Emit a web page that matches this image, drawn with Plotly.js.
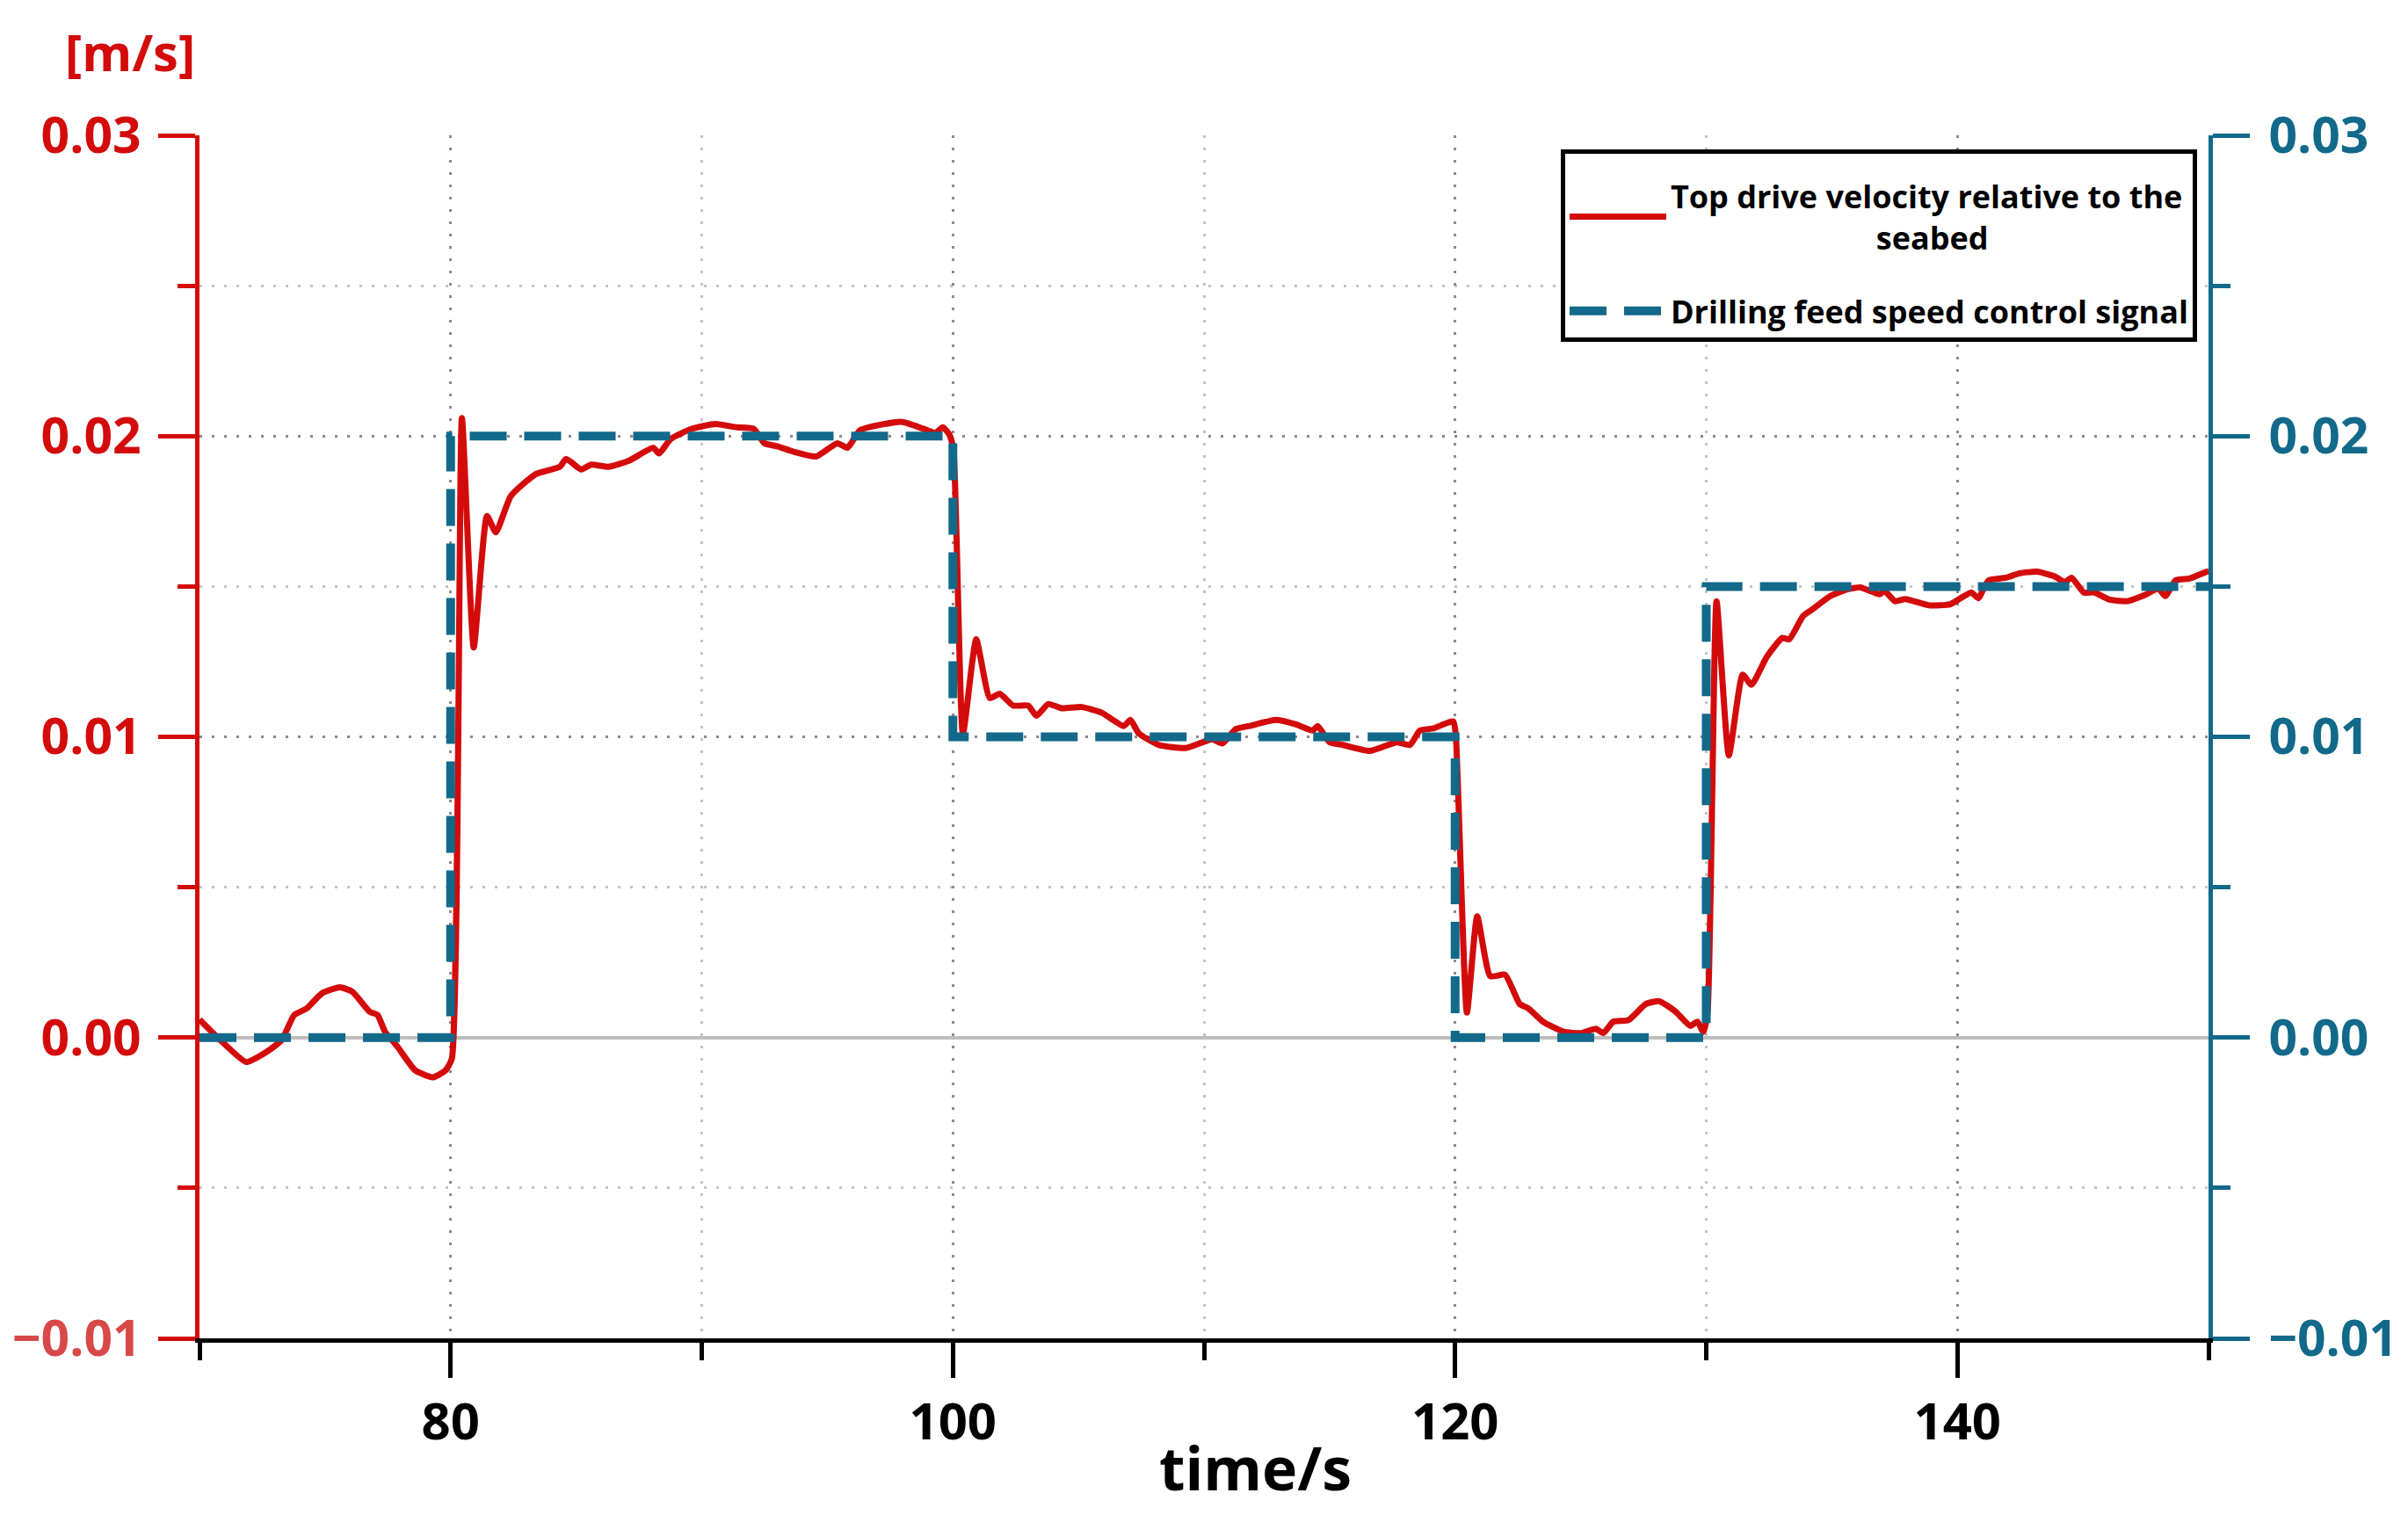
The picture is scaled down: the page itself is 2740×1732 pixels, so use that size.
<!DOCTYPE html>
<html>
<head>
<meta charset="utf-8">
<script src="https://cdn.plot.ly/plotly-3.0.1.min.js"></script>
<style>
  html, body { margin: 0; padding: 0; background: #fff; }
  #chart { width: 2740px; height: 1732px; }
</style>
</head>
<body>
<div id="chart"></div>
<script>
// Top drive velocity relative to the seabed
const timeVel = [70, 70.85, 71.86, 72.66, 73.27, 73.77, 74.27, 74.87, 75.58, 76.08, 76.78, 77.09, 77.39, 77.89, 78.59, 79.3, 79.8, 80.05, 80.45, 80.92, 81.45, 81.8, 82.4, 83.4, 84.35, 84.6, 85.2, 85.6, 86.3, 87.1, 88.07, 88.3, 88.76, 89.6, 90.55, 91.4, 92.07, 92.5, 93.0, 93.7, 94.55, 95.4, 95.8, 96.3, 97.2, 98.0, 99.0, 99.3, 99.6, 99.86, 100.02, 100.4, 100.93, 101.47, 101.87, 102.4, 103.0, 103.33, 103.8, 104.33, 105.13, 105.93, 106.8, 107.07, 107.4, 108.2, 109.27, 110.33, 110.73, 111.27, 111.8, 112.87, 113.67, 114.33, 114.53, 115.0, 115.53, 116.6, 117.67, 118.2, 118.6, 119.13, 119.93, 120.03, 120.47, 120.88, 121.4, 121.99, 122.57, 122.92, 123.5, 124.33, 125.03, 125.6, 125.9, 126.3, 126.9, 127.6, 128.13, 128.77, 129.36, 129.65, 129.88, 130.05, 130.41, 130.9, 131.45, 131.8, 132.41, 133.03, 133.3, 133.86, 134.28, 134.9, 135.59, 136.14, 136.9, 137.1, 137.52, 137.93, 138.9, 139.72, 140.55, 140.83, 141.24, 141.93, 142.48, 143.17, 143.86, 144.28, 144.55, 145.03, 145.45, 146.07, 146.76, 147.45, 148.0, 148.28, 148.69, 149.24, 149.93, 150];
const velocity = [0.0006, -0.0001, -0.00081, -0.00048, -0.00009, 0.00075, 0.00097, 0.00147, 0.00167, 0.00153, 0.00086, 0.00075, 0.00019, -0.00031, -0.00109, -0.00132, -0.00109, -0.0007, 0.0206, 0.01297, 0.01734, 0.0168, 0.01801, 0.01874, 0.01898, 0.01924, 0.01889, 0.01905, 0.01898, 0.01918, 0.01961, 0.01942, 0.0199, 0.02024, 0.0204, 0.02029, 0.02024, 0.01976, 0.01966, 0.01947, 0.01932, 0.01976, 0.01961, 0.02019, 0.02039, 0.02047, 0.02019, 0.0201, 0.02029, 0.02005, 0.0196, 0.0101, 0.01324, 0.01129, 0.01143, 0.01104, 0.01104, 0.0107, 0.01109, 0.01095, 0.01099, 0.0108, 0.01036, 0.01056, 0.01012, 0.00973, 0.00963, 0.00992, 0.00978, 0.01026, 0.01036, 0.01056, 0.01041, 0.01021, 0.01036, 0.00982, 0.00973, 0.00953, 0.00982, 0.00973, 0.01021, 0.01028, 0.01051, 0.0100, 0.00083, 0.00403, 0.00204, 0.00209, 0.00112, 0.00097, 0.00053, 0.00019, 0.00015, 0.00029, 0.00015, 0.00053, 0.00058, 0.00112, 0.00121, 0.00087, 0.00039, 0.00053, 0.00019, 0.0008, 0.01451, 0.00938, 0.01207, 0.01173, 0.01266, 0.01329, 0.01324, 0.01402, 0.01427, 0.01466, 0.0149, 0.01497, 0.01474, 0.01485, 0.01451, 0.01458, 0.01437, 0.01441, 0.0148, 0.01461, 0.0152, 0.01529, 0.01544, 0.01549, 0.01534, 0.01515, 0.01529, 0.0148, 0.0148, 0.01456, 0.01451, 0.01471, 0.01493, 0.01468, 0.0152, 0.01526, 0.01549, 0.0155];

// Drilling feed speed control signal (step)
const timeSignal = [70, 80, 80, 100, 100, 120, 120, 130, 130, 150];
const signal = [0, 0, 0.02, 0.02, 0.01, 0.01, 0, 0, 0.015, 0.015];

const yTicks = [-0.01, 0.00, 0.01, 0.02, 0.03];
const yTickTextLeft = ['<span style="color:#d84848">\u22120.01</span>', '0.00', '0.01', '0.02', '0.03'];
const yTickTextRight = ['\u22120.01', '0.00', '0.01', '0.02', '0.03'];
const xTicks = [80, 100, 120, 140];

const RED = '#d40b0b';
const BLUE = '#12698a';
const FONT = 'Open Sans, Noto Sans, sans-serif';

// space padding so that the second line of the first legend entry looks centred
const pad = '\u00a0'.repeat(25);

const data = [
  {
    x: timeVel,
    y: velocity,
    mode: 'lines',
    name: 'Top drive velocity relative to the<br>' + pad + 'seabed',
    legendgroup: 'vel',
    line: { color: RED, width: 7, shape: 'spline', smoothing: 0.5 },
    yaxis: 'y'
  },
  {
    x: timeSignal,
    y: signal,
    mode: 'lines',
    name: 'Drilling feed speed control signal',
    legendgroup: 'sig',
    line: { color: BLUE, width: 10, dash: '42px,20px' },
    yaxis: 'y2'
  }
];

const layout = {
  width: 2740,
  height: 1732,
  paper_bgcolor: '#fff',
  plot_bgcolor: '#fff',
  margin: { l: 227, r: 227, t: 154, b: 209 },
  showlegend: true,
  legend: {
    x: 0.9943, xanchor: 'right',
    y: 0.9883, yanchor: 'top',
    bgcolor: '#fff',
    bordercolor: '#000',
    borderwidth: 5,
    itemwidth: 110,
    tracegroupgap: 34,
    title: { text: '\u00a0', font: { family: FONT, size: 14 } },
    font: { family: FONT, size: 36, color: '#000', weight: 'bold' }
  },
  xaxis: {
    range: [70, 150],
    tickvals: xTicks,
    ticks: 'outside',
    ticklen: 40,
    tickwidth: 5,
    tickcolor: '#000',
    ticklabelstandoff: 0,
    tickfont: { family: FONT, size: 58, color: '#000', weight: 'bold' },
    showline: true,
    linecolor: '#000',
    linewidth: 5,
    zeroline: false,
    showgrid: true,
    gridcolor: '#8a8a8a',
    gridwidth: 3,
    griddash: '3px,11px',
    minor: {
      dtick: 10,
      ticks: 'outside',
      ticklen: 20,
      tickwidth: 5,
      tickcolor: '#000',
      showgrid: true,
      gridcolor: '#c4c4c4',
      gridwidth: 3,
      griddash: '3px,11px'
    }
  },
  xaxis2: {
    overlaying: 'x',
    side: 'top',
    range: [70, 150],
    showline: true,
    linecolor: '#b8b8b8',
    linewidth: 4,
    showgrid: false,
    zeroline: false,
    ticks: '',
    showticklabels: false
  },
  yaxis: {
    range: [-0.01, 0.03],
    tickvals: yTicks,
    ticktext: yTickTextLeft,
    ticks: 'outside',
    ticklen: 42,
    tickwidth: 5,
    tickcolor: RED,
    ticklabelstandoff: 8,
    tickfont: { family: FONT, size: 57, color: RED, weight: 'bold' },
    showline: true,
    linecolor: RED,
    linewidth: 5,
    zeroline: true,
    zerolinecolor: '#bdbdbd',
    zerolinewidth: 4,
    showgrid: true,
    gridcolor: '#8a8a8a',
    gridwidth: 3,
    griddash: '3px,11px',
    minor: {
      dtick: 0.005,
      ticks: 'outside',
      ticklen: 20,
      tickwidth: 5,
      tickcolor: RED,
      showgrid: true,
      gridcolor: '#c4c4c4',
      gridwidth: 3,
      griddash: '3px,11px'
    }
  },
  yaxis2: {
    overlaying: 'y',
    side: 'right',
    range: [-0.01, 0.03],
    tickvals: yTicks,
    ticktext: yTickTextRight,
    ticks: 'outside',
    ticklen: 42,
    tickwidth: 5,
    tickcolor: BLUE,
    ticklabelstandoff: 10,
    tickfont: { family: FONT, size: 57, color: BLUE, weight: 'bold' },
    showline: true,
    linecolor: BLUE,
    linewidth: 5,
    zeroline: false,
    showgrid: false,
    minor: {
      dtick: 0.005,
      ticks: 'outside',
      ticklen: 20,
      tickwidth: 5,
      tickcolor: BLUE
    }
  },
  annotations: [
    {
      text: '[m/s]',
      xref: 'paper', yref: 'paper',
      x: -0.0346, y: 1.07,
      xanchor: 'center', yanchor: 'middle',
      showarrow: false,
      font: { family: FONT, size: 58, color: RED, weight: 'bold' }
    },
    {
      text: 'time/s',
      xref: 'paper', yref: 'paper',
      x: 0.5254, y: -0.107,
      xanchor: 'center', yanchor: 'middle',
      showarrow: false,
      font: { family: FONT, size: 68, color: '#000', weight: 'bold' }
    }
  ]
};

Plotly.newPlot('chart', data, layout, { staticPlot: true });
</script>
</body>
</html>
